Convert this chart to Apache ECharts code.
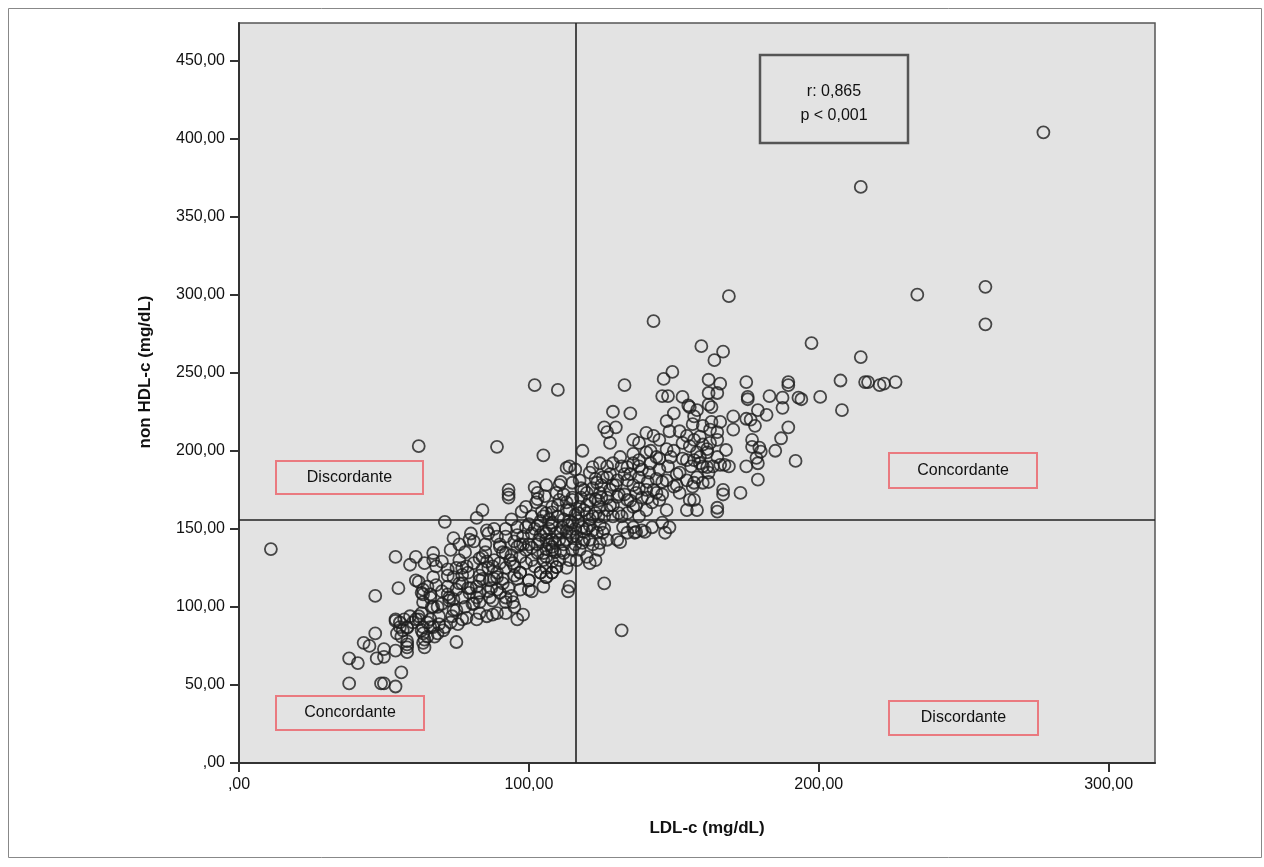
<!DOCTYPE html>
<html>
<head>
<meta charset="utf-8">
<script src="https://cdn.jsdelivr.net/npm/echarts@6/dist/echarts.min.js"></script>
<style>
html, body { margin: 0; padding: 0; background: #fff; }
#chart { width: 1264px; height: 867px; }
</style>
</head>
<body>
<div id="chart"></div>
<script>
// tick values
const xTicks = [0, 100, 200, 300];
const yTicks = [0, 50, 100, 150, 200, 250, 300, 350, 400, 450];

// cut-off lines (LDL-c, non HDL-c)
const ldlCut = 116;
const nonHdlCut = 155.5;

const xTitle = 'LDL-c (mg/dL)';
const yTitle = 'non HDL-c (mg/dL)';
const statsText = ['r: 0,865', 'p < 0,001'];
const quadrantLabels = ['Discordante', 'Concordante', 'Concordante', 'Discordante'];

// [LDL-c, non HDL-c]
const points = [
    [11, 137], [38, 67], [38, 51], [41, 64], [43, 77], [45, 75], [47, 83], [47, 107], [47.5, 67], [49, 51],
    [50, 73], [50, 68], [50, 51], [54, 49], [54, 72], [54, 91], [54, 92], [54.5, 83], [54, 132], [55, 112],
    [55.5, 87], [55.5, 90], [56, 58], [56, 81], [56.5, 85], [57, 92], [58, 74], [58, 78], [58, 86.5], [58, 71],
    [58, 76], [58, 87], [59, 127], [59, 94], [60, 90], [61, 92], [61, 117], [62, 116], [62, 92], [62, 94],
    [62, 203], [63, 109], [63, 96], [63, 85], [63.5, 77], [63.5, 83], [63.5, 87], [63.5, 108], [63.5, 111], [63.5, 103],
    [64, 74], [64, 79], [65, 113], [65, 90], [65, 81], [66, 108], [66, 106], [66, 92], [66, 87], [66.5, 100],
    [67, 119], [67, 130], [67, 100], [67, 87], [67.5, 81], [67, 134.5], [68, 114], [68.5, 100], [68.5, 83], [69, 94],
    [69, 89], [70, 102], [70.5, 85], [71, 87], [71, 154.5], [72, 113], [72.5, 106], [72.5, 104], [73, 90], [73, 136.5],
    [73.5, 94], [74, 119], [75, 125], [75, 111], [75, 98], [75, 77.5], [75.5, 89], [76, 130], [77, 106], [77, 120.5],
    [77, 115], [77, 92], [78.5, 93], [78.5, 126], [79.5, 109], [79.5, 143], [80.5, 102], [81, 142], [82, 157], [82, 113],
    [82, 92], [83, 131], [83, 117], [83, 109], [83, 103], [83, 96], [84, 124], [84, 162], [85.5, 129], [85.5, 94],
    [85.5, 149], [86, 147], [86.5, 106], [86.5, 117], [87.5, 95], [87.5, 104], [87.5, 126], [89, 145], [89, 119], [89, 111],
    [89, 96], [89, 202.5], [90, 109], [90, 138.5], [91, 115], [92, 103], [92, 106], [92, 96], [92, 134.5], [92, 145],
    [93, 175], [93, 172], [93, 170], [93.5, 130], [94, 107], [94.5, 103], [94.5, 128], [95, 100], [96, 138.5], [96, 146],
    [96, 151], [96, 92], [97, 132], [97, 111], [97, 122], [97.5, 161], [98, 95], [99, 136.5], [99, 151], [99, 164],
    [100, 111], [100, 117], [101, 110], [101, 130], [101, 147], [101, 158], [102, 176.5], [102, 242], [102.5, 167], [103, 169],
    [103, 134.5], [103, 173], [103.5, 143], [104, 122], [104.5, 161], [105, 197], [105, 130], [105, 113], [105, 134.5], [105.5, 171],
    [106, 178], [106, 132], [106, 147], [106, 160], [106, 143], [106, 125], [106, 119], [107, 156], [108, 164], [108, 138.5],
    [108, 143], [108, 160.5], [108, 154], [108, 129], [108, 136.5], [108, 122], [109.5, 173], [109.5, 125.5], [109.5, 147.5], [110, 239],
    [110.5, 178], [110.5, 168.5], [110.5, 143], [110.5, 130], [111, 180], [111.5, 151], [112, 134.5], [113, 189], [113, 167], [113, 125],
    [113, 143], [113.5, 110], [114, 113], [114, 190], [114, 147.5], [115, 179.5], [115, 168.5], [115, 154], [115, 136.5], [116.5, 145],
    [116.5, 130], [117.5, 181], [117.5, 164], [117.5, 136.5], [118.5, 151], [118.5, 200], [118.5, 141], [120, 173], [120, 160], [120, 132],
    [121, 186], [121, 128], [121, 143], [122, 158], [122, 149], [122, 189.5], [123, 130], [123.5, 179.5], [123.5, 147.5], [124, 136.5],
    [124.5, 173], [124.5, 164], [124.5, 141], [124.5, 192], [125.5, 183], [125.5, 147.5], [126, 215], [126, 115], [127, 212], [127, 183],
    [127, 162], [127, 143], [128, 205], [128, 175], [129, 225], [129, 158], [129, 192], [130, 215], [130.5, 170.5], [130.5, 181],
    [130.5, 143], [131.5, 196], [131.5, 141.5], [132, 85], [132.5, 151], [133, 242], [134, 189.5], [134, 168.5], [134, 181], [134, 147.5],
    [135, 224], [136, 207], [136, 192], [136, 164], [136, 151], [136.5, 147.5], [137, 173], [137, 148], [138, 205], [138, 194],
    [138, 158], [138, 183], [139, 149], [140, 148], [140.5, 211.5], [140.5, 199], [140.5, 162], [140.5, 175], [141.5, 186], [142.5, 167],
    [142.5, 151], [143, 209.5], [143, 283], [144, 196], [144, 173], [145, 207], [145, 188], [145, 168.5], [146, 154], [146, 235],
    [146.5, 246], [147, 147.5], [147.5, 219], [147.5, 201], [147.5, 181], [147.5, 162], [148, 235], [148.5, 212.5], [148.5, 151], [149.5, 250.5],
    [150, 224], [150, 177], [152, 212.5], [152, 186], [152, 173], [153, 234.5], [154.5, 209.5], [154.5, 194], [154.5, 181], [154.5, 162],
    [155, 229], [155.5, 203], [155.5, 168.5], [155.5, 228], [156.5, 217], [156.5, 177], [157, 207], [157, 222], [157, 194], [157, 179.5],
    [157, 168.5], [158, 199], [158, 162], [158, 226], [158, 183], [159, 192], [159, 209], [159, 196], [159.5, 267], [160, 216],
    [160, 179.5], [160, 204], [160, 190], [161.5, 201], [161.5, 189.5], [161.5, 199], [162, 245.5], [162, 237], [162, 229.5], [162, 186],
    [162, 180], [162.5, 213.5], [162.5, 205], [163, 228], [163, 218.5], [163.5, 190], [164, 258], [165, 237], [165, 212], [165, 207],
    [165, 196], [165, 163.5], [165, 161], [166, 243], [166, 218.5], [166, 191], [167, 263.5], [167, 175], [167, 172], [167.5, 191],
    [168, 200.5], [169, 190], [169, 299], [170.5, 222], [170.5, 213.5], [173, 173], [175, 244], [175, 220.5], [175, 190], [175.5, 234.5],
    [175.5, 233], [176.5, 220], [177, 202.5], [177, 207], [178, 216], [178.5, 195.5], [179, 226], [179, 192], [179, 181.5], [179.5, 202],
    [180, 199.5], [182, 223], [183, 235], [185, 200], [187, 208], [187.5, 234], [187.5, 227.5], [189.5, 215], [189.5, 244], [189.5, 242],
    [192, 193.5], [193, 234], [194, 233], [197.5, 269], [200.5, 234.5], [207.5, 245], [208, 226], [214.5, 260], [214.5, 369], [216, 244],
    [217, 244], [221, 242], [222.5, 243], [226.5, 244], [234, 300], [257.5, 305], [257.5, 281], [277.5, 404],
    [92, 150], [94, 156], [95, 142], [98, 145], [100, 140], [100, 153], [102, 150], [103, 140], [104, 155], [105, 148],
    [107, 140], [108, 152], [109, 135], [110, 158], [111, 148], [112, 140], [113, 162], [114, 155], [115, 145], [116, 150],
    [117, 160], [118, 170], [119, 148], [120, 165], [121, 152], [122, 176], [123, 160], [124, 168], [125, 178], [126, 158],
    [127, 170], [128, 185], [129, 165], [130, 178], [131, 160], [132, 190], [133, 172], [134, 160], [135, 185], [136, 178],
    [137, 165], [138, 190], [139, 170], [141, 180], [142, 192], [143, 175], [145, 195], [146, 180], [148, 190], [150, 200],
    [151, 185], [153, 195],
    [70, 110], [72, 120], [74, 105], [76, 115], [78, 100], [79, 122], [80, 112], [81, 128], [82, 106], [84, 118],
    [85, 135], [86, 125], [87, 112], [88, 130], [89, 122], [90, 140], [91, 118], [92, 125], [94, 133], [95, 120],
    [61, 132], [64, 128], [68, 126], [70, 129], [72, 124], [76, 140], [78, 135], [80, 147], [85, 140], [88, 150], [74, 144],
    [116, 188], [119, 175], [123, 169], [112, 172], [116, 159], [121, 156], [124.5, 152.5], [113.5, 152.5], [119, 143], [114, 130],
    [104, 122], [106, 119], [108, 122], [109.5, 125.5], [100, 117], [97, 122],
    [98, 140], [99, 128], [101, 138], [102, 126], [103, 152], [104, 146], [105, 158], [106, 137], [107, 150], [109, 141],
    [110, 165], [111, 136], [112, 156], [113, 148], [114, 162], [115, 170], [116, 140], [117, 155], [118, 176], [119, 162],
    [120, 150], [121, 168], [122, 140], [123, 182], [124, 158], [125, 170], [126, 150], [127, 190], [128, 165], [129, 178],
    [131, 172], [132, 158], [133, 185], [135, 168], [136, 198], [138, 176], [139, 188], [141, 170], [142, 200], [144, 182],
    [146, 172], [149, 196], [151, 178], [153, 205], [156, 190],
    [72, 108], [74, 98], [77, 125], [79, 112], [81, 102], [83, 120], [84, 132], [86, 110], [88, 118], [90, 128],
    [91, 135], [93, 112], [95, 126], [96, 118], [97, 140]
];

const FONT = "'Liberation Sans', Arial, sans-serif";
const chart = echarts.init(document.getElementById('chart'));

const fmt = v => (v === 0 ? ',00' : v + ',00');

// grid edges in pixels
const G = {left: 239, top: 23, right: 1155, bottom: 763};

function labelBox(text, x, y, w, h) {
    return {
        type: 'group',
        x: x,
        y: y,
        children: [
            {
                type: 'rect',
                shape: {x: 0, y: 0, width: w, height: h},
                style: {fill: '#e3e3e3', stroke: '#ea7a80', lineWidth: 2}
            },
            {
                type: 'text',
                x: w / 2,
                y: h / 2,
                style: {
                    text: text,
                    fill: '#111',
                    font: '16px ' + FONT,
                    align: 'center',
                    verticalAlign: 'middle'
                }
            }
        ]
    };
}

chart.setOption({
    animation: false,
    backgroundColor: '#fff',
    grid: {
        left: G.left,
        top: G.top,
        right: 1264 - G.right,
        bottom: 867 - G.bottom,
        show: true,
        backgroundColor: '#e3e3e3',
        borderColor: '#555',
        borderWidth: 1.5
    },
    xAxis: {
        type: 'value',
        min: 0,
        max: 316,
        interval: 100,
        splitLine: {show: false},
        axisLine: {lineStyle: {color: '#333', width: 2}},
        axisTick: {length: 9, customValues: xTicks, lineStyle: {color: '#333', width: 2}},
        axisLabel: {customValues: xTicks, formatter: fmt, fontFamily: FONT, fontSize: 16, color: '#111', margin: 14}
    },
    yAxis: {
        type: 'value',
        min: 0,
        max: 474,
        interval: 50,
        splitLine: {show: false},
        axisLine: {show: true, lineStyle: {color: '#333', width: 2}},
        axisTick: {show: true, length: 9, customValues: yTicks, lineStyle: {color: '#333', width: 2}},
        axisLabel: {customValues: yTicks, formatter: fmt, fontFamily: FONT, fontSize: 16, color: '#111', margin: 14}
    },
    series: [{
        type: 'scatter',
        data: points,
        symbol: 'circle',
        symbolSize: 12,
        itemStyle: {color: 'rgba(0,0,0,0)', borderColor: '#1e1e1e', borderWidth: 1.8},
        silent: true,
        markLine: {
            silent: true,
            symbol: 'none',
            label: {show: false},
            lineStyle: {color: '#222', width: 1.6, type: 'solid'},
            data: [{xAxis: ldlCut}, {yAxis: nonHdlCut}]
        }
    }],
    graphic: [
        {
            type: 'rect',
            shape: {x: 8.5, y: 8.5, width: 1253, height: 849},
            style: {fill: 'none', stroke: '#888', lineWidth: 1},
            silent: true
        },
        {
            type: 'text',
            x: 707,
            y: 828,
            style: {text: xTitle, fill: '#111', font: 'bold 17px ' + FONT, align: 'center', verticalAlign: 'middle'}
        },
        {
            type: 'text',
            x: 145,
            y: 372,
            rotation: Math.PI / 2,
            style: {text: yTitle, fill: '#111', font: 'bold 17px ' + FONT, align: 'center', verticalAlign: 'middle'}
        },
        {
            type: 'group',
            x: 760,
            y: 55,
            children: [
                {
                    type: 'rect',
                    shape: {x: 0, y: 0, width: 148, height: 88},
                    style: {fill: '#e3e3e3', stroke: '#555', lineWidth: 2.5}
                },
                {
                    type: 'text',
                    x: 74,
                    y: 37,
                    style: {text: statsText[0], fill: '#111', font: '16px ' + FONT, align: 'center', verticalAlign: 'middle'}
                },
                {
                    type: 'text',
                    x: 74,
                    y: 61,
                    style: {text: statsText[1], fill: '#111', font: '16px ' + FONT, align: 'center', verticalAlign: 'middle'}
                }
            ]
        },
        labelBox(quadrantLabels[0], 276, 461, 147, 33),
        labelBox(quadrantLabels[1], 889, 453, 148, 35),
        labelBox(quadrantLabels[2], 276, 696, 148, 34),
        labelBox(quadrantLabels[3], 889, 701, 149, 34)
    ]
});
</script>
</body>
</html>
